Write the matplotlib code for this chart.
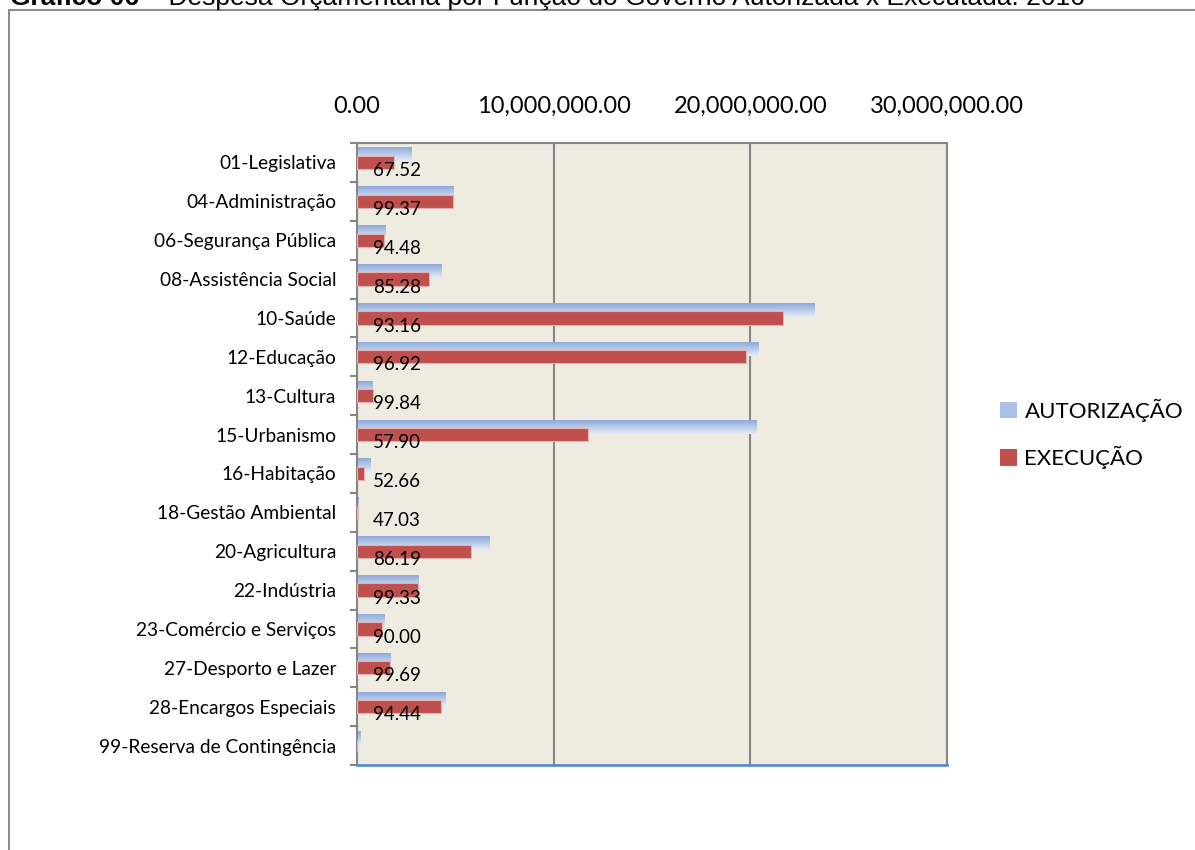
import numpy as np
import matplotlib
matplotlib.use("Agg")
import matplotlib.pyplot as plt
from matplotlib.colors import LinearSegmentedColormap
from matplotlib.patches import Patch
from matplotlib.lines import Line2D
from matplotlib.ticker import FuncFormatter

# budget by government function, authorised vs executed (R$)
funcoes = [
    "01-Legislativa", "04-Administração", "06-Segurança Pública",
    "08-Assistência Social", "10-Saúde", "12-Educação", "13-Cultura",
    "15-Urbanismo", "16-Habitação", "18-Gestão Ambiental", "20-Agricultura",
    "22-Indústria", "23-Comércio e Serviços", "27-Desporto e Lazer",
    "28-Encargos Especiais", "99-Reserva de Contingência",
]
autorizacao = [2.78e6, 4.93e6, 1.46e6, 4.30e6, 23.28e6, 20.42e6, 0.81e6,
               20.32e6, 0.71e6, 0.085e6, 6.76e6, 3.15e6, 1.42e6, 1.68e6,
               4.52e6, 0.20e6]
execucao = [1.88e6, 4.90e6, 1.38e6, 3.66e6, 21.66e6, 19.79e6, 0.80e6,
            11.76e6, 0.36e6, 0.04e6, 5.82e6, 3.12e6, 1.28e6, 1.67e6,
            4.27e6, 0.0]
percentual = ["67.52", "99.37", "94.48", "85.28", "93.16", "96.92", "99.84",
              "57.90", "52.66", "47.03", "86.19", "99.33", "90.00", "99.69",
              "94.44", ""]
xticks = [0, 10e6, 20e6, 30e6]

W, H = 1195, 850
font = "Lato"
blue_top, blue_bot = "#8EAADB", "#E4EBF7"
red = "#C0504D"

fig = plt.figure(figsize=(W / 100, H / 100), dpi=100)
ax = fig.add_axes([357 / W, 1 - 765 / H, (947 - 357) / W, (765 - 143) / H])
ax.set_facecolor("#EEEBE0")

grad_cmap = LinearSegmentedColormap.from_list("azul", [blue_top, blue_bot])
grad = np.linspace(0, 1, 64).reshape(-1, 1)

y = np.arange(len(funcoes))
bh = 0.35
for yi, v in zip(y, autorizacao):
    c = yi - 0.2
    ax.imshow(grad, cmap=grad_cmap, aspect="auto", origin="upper",
              extent=(0, v, c + bh / 2, c - bh / 2), zorder=2)

ax.barh(y, execucao, height=0.34, color=red, edgecolor="#E3B1B0",
        linewidth=0.8, zorder=3)

for yi, txt in zip(y, percentual):
    if txt:
        ax.annotate(txt, xy=(0, yi + 0.21), xytext=(16, 0),
                    textcoords="offset pixels", ha="left", va="center",
                    fontsize=13.5, family=font, color="black", zorder=4)

ax.set_xlim(0, 30e6)
ax.set_ylim(len(funcoes) - 0.5, -0.5)

ax.xaxis.tick_top()
ax.set_xticks(xticks)
ax.xaxis.set_major_formatter(FuncFormatter(lambda v, p: f"{v:,.2f}"))
ax.tick_params(axis="x", length=0, pad=19, labelsize=17)
for lab in ax.get_xticklabels():
    lab.set_family(font)

ax.set_yticks(y)
ax.set_yticklabels(funcoes, family=font, fontsize=13.8)
ax.set_yticks(np.arange(len(funcoes) + 1) - 0.5, minor=True)
ax.tick_params(axis="y", which="major", length=0, pad=15)
ax.tick_params(axis="y", which="minor", length=5, width=1.5, color="#868686")

ax.grid(axis="x", color="#868686", linewidth=1.5, zorder=1)
ax.set_axisbelow(True)
for side in ["left", "right", "top"]:
    ax.spines[side].set_color("#868686")
    ax.spines[side].set_linewidth(1.5)
ax.spines["bottom"].set_color("#5B8BD0")
ax.spines["bottom"].set_linewidth(2)

handles = [Patch(facecolor="#A9C0E8", edgecolor="none"),
           Patch(facecolor=red, edgecolor="none")]
fig.legend(handles, ["AUTORIZAÇÃO", "EXECUÇÃO"], loc="center left",
           bbox_to_anchor=(980 / W, 1 - 434 / H), frameon=False,
           prop={"family": font, "size": 16}, handlelength=0.75,
           handleheight=0.75, handletextpad=0.35, labelspacing=1.1)

# outer frame of the chart box, cut by the page edge
fig.add_artist(Line2D([9 / W, 9 / W], [0, 1 - 10 / H], transform=fig.transFigure,
                      color="#8C8C8C", linewidth=1.5))
fig.add_artist(Line2D([9 / W, 1], [1 - 10 / H, 1 - 10 / H], transform=fig.transFigure,
                      color="#8C8C8C", linewidth=1.5))

# title line, clipped at the top of the page
t1 = fig.text(10 / W, 1 - 5 / H, "Gráfico 06", family="Liberation Sans",
              fontweight="bold", fontsize=19, va="baseline", ha="left")
fig.canvas.draw()
x_end = t1.get_window_extent().x1
fig.text(x_end / W, 1 - 5 / H,
         " – Despesa Orçamentária por Função do Governo Autorizada x Executada: 2016",
         family="Liberation Sans", fontsize=19, va="baseline", ha="left")

fig.savefig("out.png", dpi=100)
